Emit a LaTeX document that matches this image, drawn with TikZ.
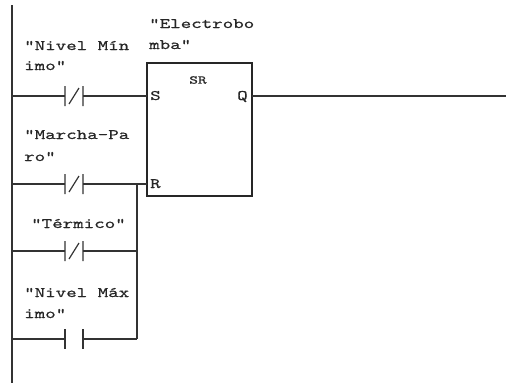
\documentclass[tikz,border=0pt]{standalone}
\usepackage{fontspec}
\newfontfamily\plc{lmmono10-regular.otf}[FakeStretch=1.38, FakeBold=0.6]
\begin{document}
\begin{tikzpicture}[x=1pt,y=-1pt,
  wire/.style={line width=1.2pt, draw=black!80},
  lbl/.style={anchor=base west, inner sep=0pt, text=black!85, font=\plc\fontsize{14.5}{16}\selectfont},
  ncc/.pic={\draw[wire] (-9,-10) -- (-9,10) (9,-10) -- (9,10) (-5,8) -- (5,-8);
            \coordinate (-l) at (-9,0); \coordinate (-r) at (9,0);},
  noc/.pic={\draw[wire] (-9,-10) -- (-9,10) (9,-10) -- (9,10);
            \coordinate (-l) at (-9,0); \coordinate (-r) at (9,0);}
]
\useasboundingbox (0,0) rectangle (506,383);
% power rail
\coordinate (railtop) at (12,5);
\coordinate (railbot) at (12,383);
\draw[wire] (railtop) -- (railbot);
% SR box
\node[draw=black!85, line width=1.3pt, inner sep=0pt, outer sep=0pt,
      minimum width=105pt, minimum height=133pt, anchor=north west] (sr) at (147,63) {};
\node[inner sep=0pt, text=black!85, font=\plc\fontsize{12}{14}\selectfont] (srl) at (198,80) {SR};
\node[lbl] (sin) at (150,100) {S};
\node[lbl] (rin) at (150,188) {R};
\node[lbl] (qout) at (237,100) {Q};
% contacts
\pic (k1) at (74,96) {ncc};
\pic (k2) at (74,184) {ncc};
\pic (k3) at (74,251) {ncc};
\pic (k4) at (74,339) {noc};
% junctions
\coordinate (j1) at (12,96);
\coordinate (j2) at (12,184);
\coordinate (j3) at (12,251);
\coordinate (j4) at (12,339);
\coordinate (b2) at (137,184);
\coordinate (b3) at (137,251);
\coordinate (b4) at (137,339);
\coordinate (out) at (506,96);
% wires
\draw[wire] (j1) -- (k1-l);
\draw[wire] (k1-r) -- (k1-r -| sr.west);
\draw[wire] (j2) -- (k2-l);
\draw[wire] (k2-r) -- (k2-r -| sr.west);
\draw[wire] (j3) -- (k3-l);
\draw[wire] (k3-r) -- (b3);
\draw[wire] (j4) -- (k4-l);
\draw[wire] (k4-r) -- (b4);
\draw[wire] (b2) -- (b4);
\draw[wire] (sr.east |- out) -- (out);
% labels
\node[lbl] (elec1) at (149,28) {"Electrobo};
\node[lbl] (elec2) at (149,49) {mba"};
\node[lbl] (nmin1) at (24,50) {"Nivel Mín};
\node[lbl] (nmin2) at (24,70) {imo"};
\node[lbl] (mp1) at (24,139) {"Marcha-Pa};
\node[lbl] (mp2) at (24,161) {ro"};
\node[lbl] (term) at (31,228) {"Térmico"};
\node[lbl] (nmax1) at (24,297) {"Nivel Máx};
\node[lbl] (nmax2) at (24,318) {imo"};
\end{tikzpicture}
\end{document}
